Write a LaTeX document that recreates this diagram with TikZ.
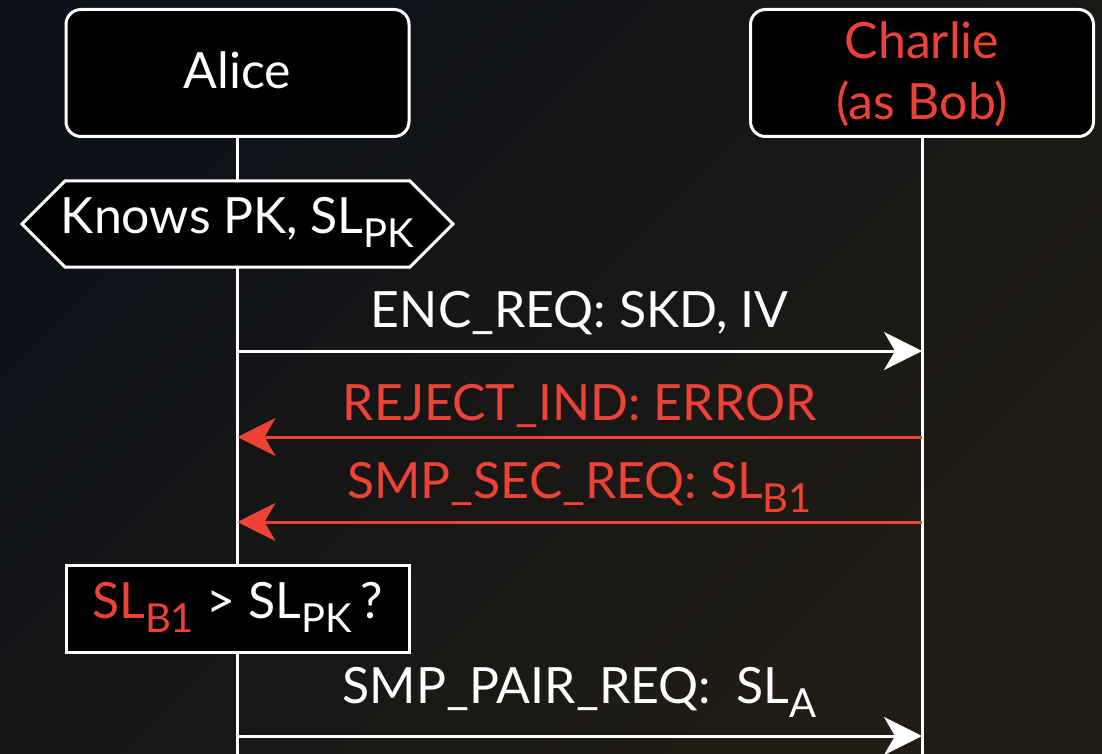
\documentclass[tikz,border=0pt]{standalone}
\usepackage{fontspec}
\setmainfont{Lato}
\usetikzlibrary{arrows.meta,shapes.symbols,backgrounds}
\definecolor{alertred}{RGB}{238,66,54}
\definecolor{bgtl}{RGB}{13,17,24}
\definecolor{bgbr}{RGB}{33,29,20}
\newcommand{\lsub}[1]{\raisebox{-14pt}{\fontsize{40pt}{42pt}\selectfont #1}}
\tikzset{
  base font/.style={font=\fontsize{50pt}{61pt}\selectfont},
  actor/.style={draw=white, line width=3pt, fill=black, rounded corners=15pt,
    minimum width=343pt, minimum height=127pt, inner sep=0pt, base font},
  notebox/.style={draw=white, line width=3pt, fill=black, inner sep=0pt,
    minimum width=343pt, minimum height=87pt, base font, text height=36pt, text depth=17pt},
  hexbox/.style={draw=white, line width=3pt, fill=black, shape=signal,
    signal to=west and east, signal pointer angle=90, inner ysep=0pt, inner xsep=-4pt,
    minimum height=86pt, base font, text height=36pt, text depth=18pt},
  lifeline/.style={draw=white, line width=3pt},
  msgwhite/.style={draw=white, line width=3pt, -{Stealth[length=38pt,width=38pt,inset=11pt]}},
  msgred/.style={draw=alertred, line width=3pt, -{Stealth[length=38pt,width=38pt,inset=11pt]}},
  msglabel/.style={anchor=base, inner sep=0pt, base font}
}
\begin{document}
\begin{tikzpicture}[x=1pt,y=-1pt]
\useasboundingbox (0,0) rectangle (1102,754);
% actors
\node[actor, text=white, text height=36pt, text depth=4pt] (alice) at (237.5,73) {Alice};
\node[actor, text=alertred, align=center, text height=97pt, text depth=3pt] (charlie) at (922,73) {Charlie\\(as Bob)};
\coordinate (aliceend) at (237.5,754);
\coordinate (charlieend) at (922,754);
% state
\node[hexbox, text=white] (knows) at (237.5,224) {Knows PK, SL\lsub{PK}};
% messages
\node[msglabel, text=white] (l1) at (579.5,327) {ENC\_REQ: SKD, IV};
\node[msglabel, text=alertred] (l2) at (579.5,420) {REJECT\_IND: ERROR};
\node[msglabel, text=alertred] (l3) at (579.5,498) {SMP\_SEC\_REQ: SL\lsub{B1}};
\node[notebox, text=white] (check) at (237.5,608.5) {\textcolor{alertred}{SL\lsub{B1}} > SL\lsub{PK}\,?};
\node[msglabel, text=white] (l4) at (579.5,703) {SMP\_PAIR\_REQ:\ \ SL\lsub{A}};
\draw[msgwhite] (alice.center |- 0,351) -- (charlie.center |- 0,351);
\draw[msgred] (charlie.center |- 0,437) -- (alice.center |- 0,437);
\draw[msgred] (charlie.center |- 0,522) -- (alice.center |- 0,522);
\draw[msgwhite] (alice.center |- 0,736) -- (charlie.center |- 0,736);
\begin{pgfonlayer}{background}
\shade[top color=bgtl, bottom color=bgbr, shading angle=45] (0,0) rectangle (1102,754);
\draw[lifeline] (alice.south) -- (aliceend);
\draw[lifeline] (charlie.south) -- (charlieend);
\end{pgfonlayer}
\end{tikzpicture}
\end{document}
